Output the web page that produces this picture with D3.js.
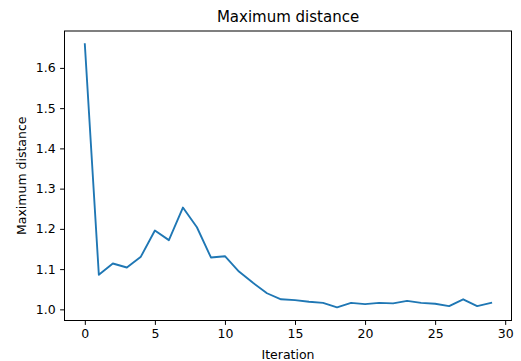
<!DOCTYPE html>
<html>
<head>
<meta charset="utf-8">
<script src="https://cdn.jsdelivr.net/npm/d3@7"></script>
<style>
  html, body { margin: 0; padding: 0; background: #fff; }
  svg { display: block; }
  text { font-family: "DejaVu Sans", sans-serif; fill: #000; }
</style>
</head>
<body>
<svg id="chart" width="521" height="361"></svg>
<script>
const iterations = d3.range(0, 30);
const maxDistance = [1.659, 1.086, 1.114, 1.104, 1.131, 1.196, 1.172, 1.253, 1.204, 1.129,
  1.132, 1.094, 1.066, 1.040, 1.025, 1.023, 1.019, 1.016, 1.005, 1.016,
  1.013, 1.016, 1.015, 1.021, 1.016, 1.014, 1.008, 1.025, 1.008, 1.016];
const xTicks = [0, 5, 10, 15, 20, 25, 30];
const yTicks = [1.0, 1.1, 1.2, 1.3, 1.4, 1.5, 1.6];
const titleText = "Maximum distance";
const xLabel = "Iteration";
const yLabel = "Maximum distance";

const svg = d3.select("#chart");
const L = 64.5, R = 511.5, T = 31, B = 320.5;

const xMin = d3.min(iterations), xMax = d3.max(iterations);
const xPad = (xMax - xMin) * 0.05;
const x = d3.scaleLinear().domain([xMin - xPad, xMax + xPad]).range([L, R]);
const yMin = d3.min(maxDistance), yMax = d3.max(maxDistance);
const yPad = (yMax - yMin) * 0.05;
const y = d3.scaleLinear().domain([yMin - yPad, yMax + yPad]).range([B, T]);

const fs = 12.5;

// line
svg.append("path")
  .datum(iterations.map((d, i) => [d, maxDistance[i]]))
  .attr("fill", "none")
  .attr("stroke", "#1f77b4")
  .attr("stroke-width", 1.875)
  .attr("stroke-linejoin", "round")
  .attr("stroke-linecap", "square")
  .attr("d", d3.line().x(d => x(d[0])).y(d => y(d[1])));

// axes
const xAxis = d3.axisBottom(x).tickValues(xTicks).tickFormat(d3.format("d"))
  .tickSizeInner(4.4).tickSizeOuter(0).tickPadding(4.4);
const gx = svg.append("g").attr("transform", `translate(0,${B})`).call(xAxis);
const yAxis = d3.axisLeft(y).tickValues(yTicks).tickFormat(d3.format(".1f"))
  .tickSizeInner(4.4).tickSizeOuter(0).tickPadding(4.4);
const gy = svg.append("g").attr("transform", `translate(${L},0)`).call(yAxis);
[gx, gy].forEach(g => {
  g.select(".domain").remove();
  g.selectAll(".tick line").attr("stroke", "#000").attr("stroke-width", 1);
  g.selectAll(".tick text").style("font-size", fs + "px").style("font-family", "DejaVu Sans");
});

// spines
svg.append("rect")
  .attr("x", L).attr("y", T).attr("width", R - L).attr("height", B - T)
  .attr("fill", "none").attr("stroke", "#000").attr("stroke-width", 1);

// title and labels
svg.append("text").attr("x", (L + R) / 2).attr("y", 22)
  .attr("text-anchor", "middle").style("font-size", "15px").text(titleText);
svg.append("text").attr("x", (L + R) / 2).attr("y", 358.5)
  .attr("text-anchor", "middle").style("font-size", fs + "px").text(xLabel);
svg.append("text")
  .attr("transform", `translate(26,${(T + B) / 2}) rotate(-90)`)
  .attr("text-anchor", "middle").style("font-size", fs + "px").text(yLabel);
</script>
</body>
</html>
